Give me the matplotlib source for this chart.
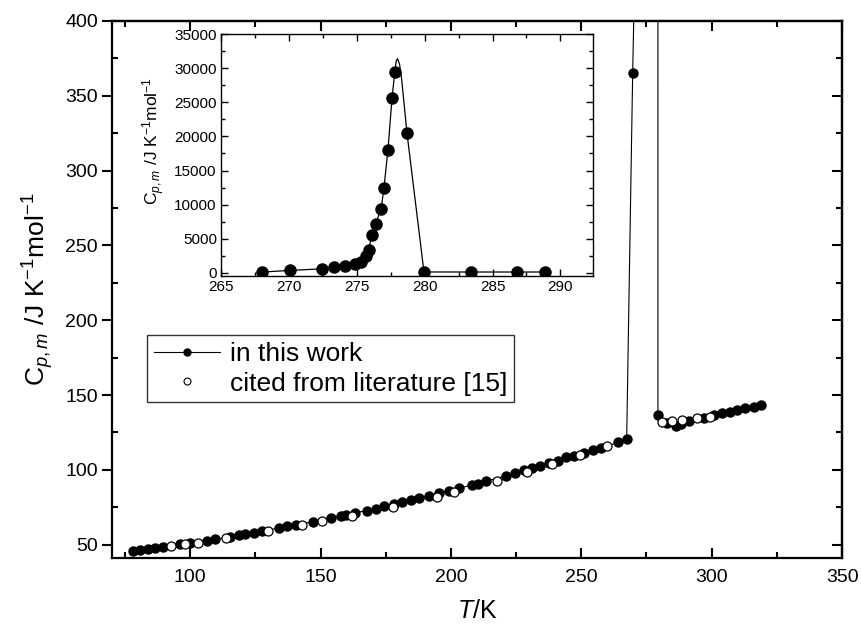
import matplotlib
matplotlib.use("Agg")
import matplotlib.pyplot as plt
from matplotlib.ticker import MultipleLocator
from matplotlib.lines import Line2D

plt.rcParams.update({
    "font.family": "Liberation Sans",
    "mathtext.fontset": "custom",
    "mathtext.rm": "Liberation Sans",
    "mathtext.it": "Liberation Sans:italic",
    "mathtext.bf": "Liberation Sans:bold",
})

# "in this work" - low temperature branch
T_low = [78.2, 80.7, 83.9, 86.5, 89.6, 96.0, 99.9, 106.6, 109.7, 115.4, 118.7,
         121.2, 124.4, 127.7, 133.9, 137.3, 140.4, 147.1, 154.1, 157.7, 159.8,
         163.4, 167.8, 171.1, 174.5, 178.1, 181.3, 184.7, 187.9, 191.7, 195.6,
         199.1, 203.0, 208.1, 210.2, 213.5, 221.1, 224.7, 227.9, 231.1, 234.1,
         237.7, 240.9, 244.1, 247.3, 251.1, 254.3, 257.5, 264.2, 267.4]
Cp_low = [45.8, 46.2, 47.1, 47.6, 48.2, 50.2, 51.3, 52.7, 53.6, 55.3, 56.2,
          56.9, 58.0, 59.1, 61.1, 62.2, 63.3, 65.3, 68.0, 68.9, 69.6,
          71.5, 72.7, 73.8, 75.8, 77.1, 78.2, 79.8, 80.9, 82.7, 84.5,
          86.2, 87.8, 89.8, 90.7, 92.5, 96.0, 98.0, 99.8, 101.3, 102.5,
          104.5, 105.8, 108.4, 109.5, 111.1, 113.1, 114.5, 118.4, 120.7]

# transition region (mostly above the main y range)
T_tr = [269.7, 272.4, 273.3, 274.1, 274.9, 275.3, 275.66, 275.9, 276.1, 276.4,
        276.8, 277.0, 277.3, 277.6, 277.8, 278.7]
Cp_tr = [365, 600, 800, 1000, 1320, 1660, 2440, 3420, 5620, 7230,
         9430, 12400, 18080, 25700, 29400, 20470]

# "in this work" - high temperature branch
T_high = [279.4, 283.0, 286.2, 288.1, 291.3, 297.0, 300.8, 303.8, 306.9, 309.8,
          312.7, 316.2, 319.1]
Cp_high = [136.7, 131.1, 129.5, 130.7, 132.9, 134.7, 137.0, 137.8, 138.9, 140.0,
           141.1, 142.2, 143.3]

# cited from literature [15]
T_lit = [92.6, 97.9, 103.0, 113.6, 129.8, 143.0, 150.7, 162.2, 177.7, 194.7,
         201.3, 217.7, 229.1, 238.7, 249.4, 260.0, 280.8, 284.9, 288.7, 294.2,
         299.2]
Cp_lit = [48.9, 50.2, 51.3, 54.4, 59.1, 63.3, 65.8, 69.1, 74.9, 81.8,
          84.9, 92.9, 98.7, 104.0, 110.2, 115.8, 132.2, 132.9, 133.0, 134.4,
          135.5]

# inset: points around the phase transition
T_in = [268.0, 270.1, 272.45, 273.3, 274.1, 274.9, 275.3, 275.66, 275.9, 276.1,
        276.4, 276.8, 277.0, 277.3, 277.6, 277.8, 278.7, 279.95, 283.4, 286.8,
        288.9]
Cp_in = [120, 365, 600, 800, 1000, 1320, 1660, 2440, 3420, 5620,
         7230, 9430, 12400, 18080, 25700, 29400, 20470, 136, 131, 130,
         131]
# drawn curve through the inset points (rounded peak)
T_curve = [268.0, 270.1, 272.45, 273.3, 274.1, 274.9, 275.3, 275.66, 275.9, 276.1,
           276.4, 276.8, 277.0, 277.3, 277.6, 277.8, 277.9, 278.0, 278.15, 278.3,
           278.7, 279.95, 283.4, 286.8, 288.9]
Cp_curve = [120, 365, 600, 800, 1000, 1320, 1660, 2440, 3420, 5620,
            7230, 9430, 12400, 18080, 25700, 29400, 31000, 31400, 30600, 28500,
            20470, 136, 131, 130, 131]

T_work = T_low + T_tr + T_high
Cp_work = Cp_low + Cp_tr + Cp_high

fig = plt.figure(figsize=(8.61, 6.35), dpi=100)
ax = fig.add_axes([0.130, 0.121, 0.848, 0.846])

ax.plot(T_work, Cp_work, color="black", lw=0.8, marker="o", ms=6.5,
        mfc="black", mec="black")
ax.plot(T_lit, Cp_lit, ls="none", marker="o", ms=6.5, mfc="white",
        mec="black", mew=0.9)

ax.set_xlim(70, 350)
ax.set_ylim(41, 400)
ax.xaxis.set_minor_locator(MultipleLocator(25))
ax.yaxis.set_minor_locator(MultipleLocator(25))
ax.set_xticks(range(100, 351, 50))
ax.set_yticks(range(50, 401, 50))

for s in ax.spines.values():
    s.set_linewidth(1.6)
ax.tick_params(axis="x", which="major", direction="in", length=7, width=1.5,
               labelsize=14, pad=8)
ax.tick_params(axis="x", which="minor", direction="in", length=4, width=1.5)
ax.tick_params(axis="y", which="major", direction="out", length=7, width=1.5,
               labelsize=14, pad=3)
ax.tick_params(axis="y", which="minor", direction="in", length=4, width=1.5)

secx = ax.secondary_xaxis("top")
secx.xaxis.set_major_locator(MultipleLocator(50))
secx.xaxis.set_minor_locator(MultipleLocator(25))
secx.tick_params(which="major", direction="in", length=7, width=1.5, labeltop=False)
secx.tick_params(which="minor", direction="in", length=4, width=1.5)
secx.spines["top"].set_linewidth(1.6)

secy = ax.secondary_yaxis("right")
secy.yaxis.set_major_locator(MultipleLocator(50))
secy.yaxis.set_minor_locator(MultipleLocator(25))
secy.tick_params(which="major", direction="in", length=7, width=1.5, labelright=False)
secy.tick_params(which="minor", direction="in", length=4, width=1.5)
secy.spines["right"].set_linewidth(1.6)

ax.set_xlabel(r"$\mathit{T}$/K", fontsize=18, labelpad=9)
ax.set_ylabel(r"C$_{\mathit{p,m}}$ /J K$^{\mathrm{-1}}$mol$^{\mathrm{-1}}$",
              fontsize=19, labelpad=7)

handles = [
    Line2D([], [], color="black", lw=0.8, marker="o", ms=5, mfc="black"),
    Line2D([], [], ls="none", marker="o", ms=5, mfc="white", mec="black", mew=0.8),
]
leg = ax.legend(handles, ["in this work", "cited from literature [15]"],
                loc="upper left", bbox_to_anchor=(0.048, 0.415), fontsize=19,
                frameon=True, fancybox=False, handlelength=2.5, handletextpad=0.4,
                borderpad=0.25, labelspacing=0.22, borderaxespad=0)
leg.get_frame().set_edgecolor("black")
leg.get_frame().set_linewidth(1.0)

# inset
axin = fig.add_axes([0.2567, 0.5654, 0.432, 0.381])
axin.plot(T_curve, Cp_curve, color="black", lw=0.9)
axin.plot(T_in, Cp_in, ls="none", marker="o", ms=8, mfc="black", mec="black")
axin.set_xlim(265, 292.4)
axin.set_ylim(-450, 35000)
axin.set_xticks(range(265, 291, 5))
axin.set_yticks(range(0, 35001, 5000))
axin.xaxis.set_minor_locator(MultipleLocator(2.5))
axin.yaxis.set_minor_locator(MultipleLocator(2500))
for s in axin.spines.values():
    s.set_linewidth(1.0)
axin.tick_params(which="major", direction="in", length=5, width=1.0,
                 top=True, right=True, labelsize=11, pad=3)
axin.tick_params(which="minor", direction="in", length=3, width=1.0,
                 top=True, right=True)
axin.set_ylabel(r"C$_{\mathit{p,m}}$ /J K$^{\mathrm{-1}}$mol$^{\mathrm{-1}}$",
                fontsize=12.5, labelpad=2)
axin.yaxis.set_label_coords(-0.145, 0.56)

fig.savefig("out.png", dpi=100)
